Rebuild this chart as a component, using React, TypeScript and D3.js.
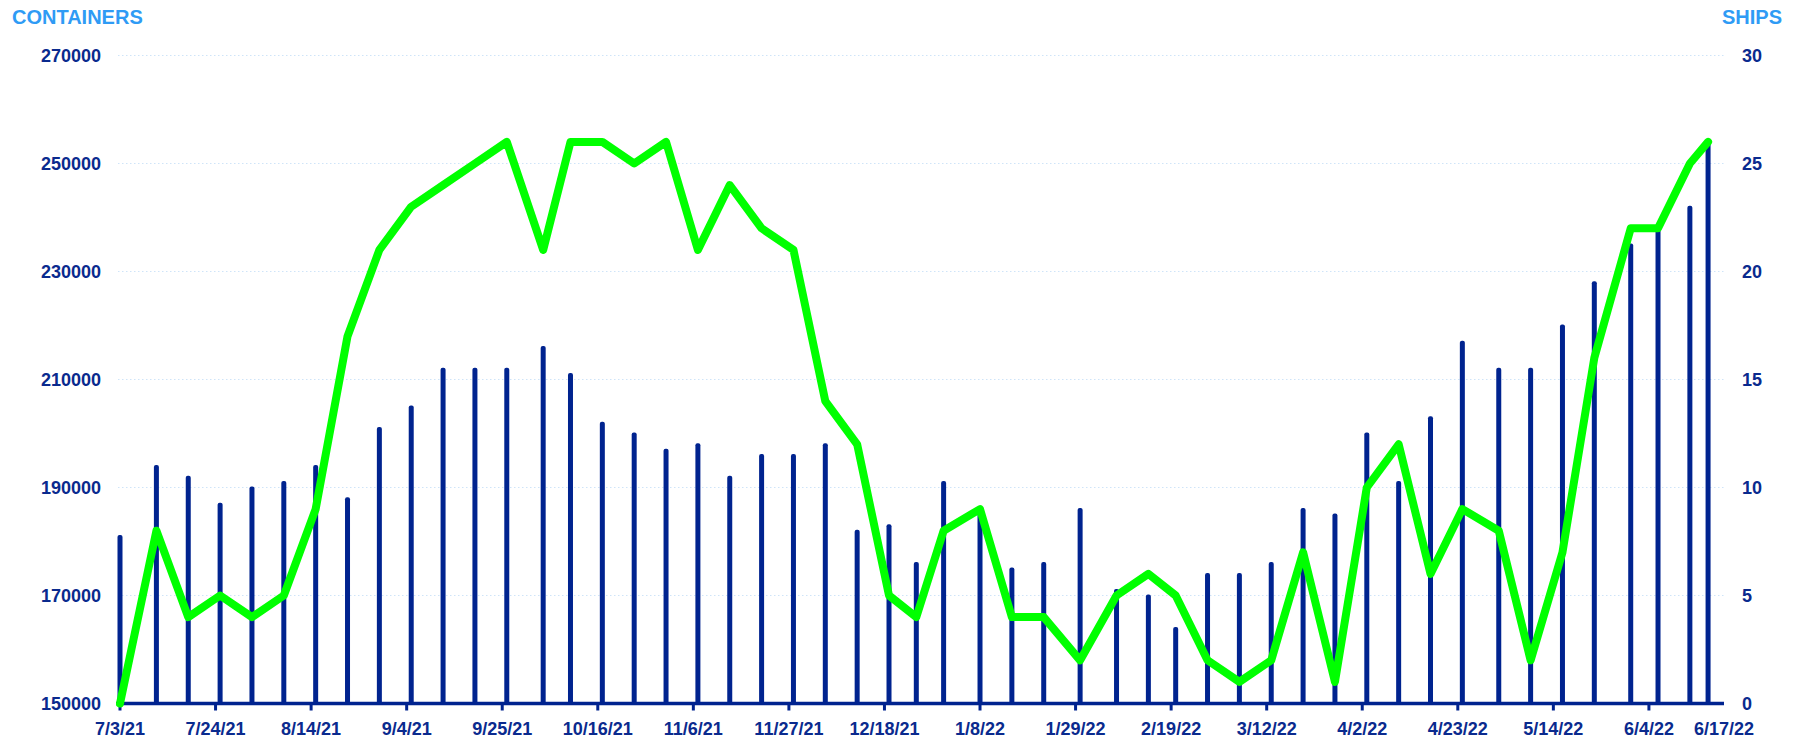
import React from 'react';
import * as d3 from 'd3';

// weekly report dates
const dates = [
  '2021-07-03', '2021-07-11', '2021-07-18', '2021-07-25', '2021-08-01', '2021-08-08', '2021-08-15',
  '2021-08-22', '2021-08-29', '2021-09-05', '2021-09-12', '2021-09-19', '2021-09-26', '2021-10-04',
  '2021-10-10', '2021-10-17', '2021-10-24', '2021-10-31', '2021-11-07', '2021-11-14', '2021-11-21',
  '2021-11-28', '2021-12-05', '2021-12-12', '2021-12-19', '2021-12-25', '2021-12-31', '2022-01-08',
  '2022-01-15', '2022-01-22', '2022-01-30', '2022-02-07', '2022-02-14', '2022-02-20', '2022-02-27',
  '2022-03-06', '2022-03-13', '2022-03-20', '2022-03-27', '2022-04-03', '2022-04-10', '2022-04-17',
  '2022-04-24', '2022-05-02', '2022-05-09', '2022-05-16', '2022-05-23', '2022-05-31', '2022-06-06',
  '2022-06-13', '2022-06-17'
];

const containers = [
  181000, 194000, 192000, 187000, 190000, 191000, 194000, 188000, 201000, 205000,
  212000, 212000, 212000, 216000, 211000, 202000, 200000, 197000, 198000, 192000,
  196000, 196000, 198000, 182000, 183000, 176000, 191000, 185000, 175000, 176000,
  186000, 171000, 170000, 164000, 174000, 174000, 176000, 186000, 185000, 200000,
  191000, 203000, 217000, 212000, 212000, 220000, 228000, 235000, 238000, 242000,
  254000
];

const ships = [
  0, 8, 4, 5, 4, 5, 9, 17, 21, 23,
  24, 25, 26, 21, 26, 26, 25, 26, 21, 24,
  22, 21, 14, 12, 5, 4, 8, 9, 4, 4,
  2, 5, 6, 5, 2, 1, 2, 7, 1, 10,
  12, 6, 9, 8, 2, 7, 16, 22, 22, 25,
  26
];

const xTickLabels = [
  '7/3/21', '7/24/21', '8/14/21', '9/4/21', '9/25/21', '10/16/21', '11/6/21', '11/27/21', '12/18/21',
  '1/8/22', '1/29/22', '2/19/22', '3/12/22', '4/2/22', '4/23/22', '5/14/22', '6/4/22'
];
const xEndLabel = '6/17/22';

const leftTicks = [150000, 170000, 190000, 210000, 230000, 250000, 270000];
const rightTicks = [0, 5, 10, 15, 20, 25, 30];

const W = 1803;
const H = 745;
const NAVY = '#0a2a8e';
const BAR = '#00238f';
const GREEN = '#00ff00';
const TITLE = '#2f9bf5';
const FONT = '"Liberation Sans", Arial, sans-serif';

const parseIso = d3.timeParse('%Y-%m-%d');
const parseLabel = d3.timeParse('%m/%d/%y');

const App: React.FC = () => {
  const x = d3.scaleTime()
    .domain([parseIso('2021-07-03')!, new Date(2022, 5, 20, 12)])
    .range([120, 1724]);
  const yL = d3.scaleLinear().domain([150000, 270000]).range([703.5, 55.5]);
  const yR = d3.scaleLinear().domain([0, 30]).range([703.5, 55.5]);

  const rows = dates.map((d, i) => ({ date: parseIso(d)!, c: containers[i], s: ships[i] }));

  const line = d3.line<typeof rows[number]>()
    .x(d => x(d.date))
    .y(d => yR(d.s));

  const [x0, x1] = x.range();
  const base = yL(150000);

  return (
    <svg width={W} height={H} style={{ position: 'absolute', left: 0, top: 0, background: '#fff' }}
      fontFamily={FONT} fontWeight="bold">
      {/* titles */}
      <text x={12} y={23.5} fontSize={20} fill={TITLE}>CONTAINERS</text>
      <text x={1782} y={23.5} fontSize={20} fill={TITLE} textAnchor="end">SHIPS</text>

      {/* grid */}
      {leftTicks.slice(1).map(t => (
        <line key={t} x1={x0 - 2} x2={x1} y1={yL(t)} y2={yL(t)}
          stroke="#cfe4f8" strokeWidth={1} strokeDasharray="1.5,2.5" />
      ))}

      {/* left axis labels */}
      {leftTicks.map(t => (
        <text key={t} x={101} y={yL(t) + 6.5} fontSize={18} fill={NAVY} textAnchor="end">{t}</text>
      ))}
      {/* right axis labels */}
      {rightTicks.map(t => (
        <text key={t} x={1742} y={yR(t) + 6.5} fontSize={18} fill={NAVY}>{t}</text>
      ))}

      {/* bars */}
      {rows.map((d, i) => (
        <rect key={i} x={x(d.date) - 2.5} y={yL(d.c) - 1} width={5} height={base - yL(d.c) + 1}
          rx={2} fill={BAR} />
      ))}

      {/* x axis */}
      <line x1={x0 - 4} x2={x1} y1={base} y2={base} stroke={BAR} strokeWidth={3.5} />
      {xTickLabels.map(l => {
        const px = x(parseLabel(l)!);
        return (
          <g key={l}>
            <line x1={px} x2={px} y1={base} y2={base + 7} stroke={BAR} strokeWidth={3} />
            <text x={px} y={735} fontSize={18} fill={NAVY} textAnchor="middle">{l}</text>
          </g>
        );
      })}
      <text x={x1} y={735} fontSize={18} fill={NAVY} textAnchor="middle">{xEndLabel}</text>

      {/* ships line */}
      <path d={line(rows) || ''} fill="none" stroke={GREEN} strokeWidth={8}
        strokeLinejoin="round" strokeLinecap="round" />
    </svg>
  );
};

export default App;
